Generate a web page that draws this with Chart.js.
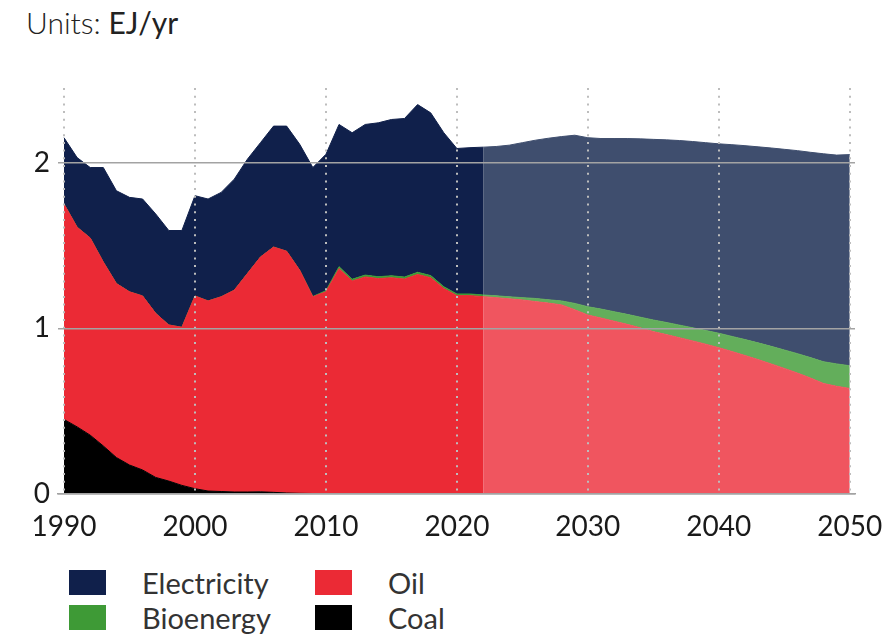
<!DOCTYPE html>
<html>
<head>
<meta charset="utf-8">
<script src="https://cdn.jsdelivr.net/npm/chart.js@4.4.0/dist/chart.umd.min.js"></script>
<style>
  body { margin: 0; background: #fff; font-family: Lato, sans-serif; }
  #wrap { position: relative; width: 887px; height: 638px; }
  #units { position: absolute; left: 26px; top: 4px; font-size: 30px; color: #222; }
  #units .lt { font-weight: 300; }
  #chart { position: absolute; left: 0; top: 0; }
  #legend { position: absolute; left: 69px; top: 570px; display: grid;
            grid-template-columns: 246px 200px; row-gap: 10px; }
  .item { display: flex; align-items: center; height: 25px; font-size: 29px; color: #333; }
  .box { width: 37px; height: 25px; margin-right: 36px; }
</style>
</head>
<body>
<div id="wrap">
  <div id="units"><span class="lt">Units:</span> EJ/yr</div>
  <canvas id="chart" width="887" height="550"></canvas>
  <div id="legend"></div>
</div>
<script>
// anos (histórico até 2022, projeção depois)
const years = [
  1990, 1991, 1992, 1993, 1994, 1995, 1996, 1997, 1998, 1999,
  2000, 2001, 2002, 2003, 2004, 2005, 2006, 2007, 2008, 2009,
  2010, 2011, 2012, 2013, 2014, 2015, 2016, 2017, 2018, 2019,
  2020, 2021, 2022, 2023, 2024, 2025, 2026, 2027, 2028, 2029,
  2030, 2031, 2032, 2033, 2034, 2035, 2036, 2037, 2038, 2039,
  2040, 2041, 2042, 2043, 2044, 2045, 2046, 2047, 2048, 2049, 2050
]
const forecastStart = 2022

const coal = [
  0.45, 0.405, 0.355, 0.29, 0.22, 0.175, 0.145, 0.10, 0.078, 0.052,
  0.032, 0.018, 0.015, 0.012, 0.012, 0.013, 0.01, 0.006, 0.004, 0.003,
  0.003, 0.003, 0.003, 0.003, 0.003, 0.003, 0.003, 0.003, 0.002, 0.002,
  0.002, 0.002, 0.002, 0, 0, 0, 0, 0, 0, 0,
  0, 0, 0, 0, 0, 0, 0, 0, 0, 0,
  0, 0, 0, 0, 0, 0, 0, 0, 0, 0, 0
]

const oil = [
  1.30, 1.205, 1.19, 1.11, 1.05, 1.045, 1.05, 0.99, 0.942, 0.954,
  1.163, 1.147, 1.175, 1.218, 1.318, 1.417, 1.48, 1.459, 1.346, 1.187,
  1.217, 1.357, 1.282, 1.307, 1.297, 1.302, 1.294, 1.322, 1.303, 1.238,
  1.195, 1.195, 1.189, 1.185, 1.178, 1.171, 1.161, 1.152, 1.141, 1.112,
  1.08, 1.062, 1.043, 1.024, 1.003, 0.98, 0.962, 0.943, 0.924, 0.904,
  0.883, 0.86, 0.836, 0.811, 0.785, 0.758, 0.73, 0.70, 0.667, 0.65, 0.637
]

const bioenergy = [
  0, 0, 0, 0, 0, 0, 0, 0, 0, 0,
  0, 0, 0, 0, 0, 0, 0, 0, 0, 0.002,
  0.007, 0.012, 0.011, 0.011, 0.011, 0.012, 0.012, 0.013, 0.013, 0.011,
  0.01, 0.01, 0.01, 0.011, 0.012, 0.014, 0.019, 0.02, 0.024, 0.038,
  0.05, 0.054, 0.057, 0.06, 0.064, 0.07, 0.073, 0.076, 0.079, 0.083,
  0.087, 0.091, 0.096, 0.101, 0.106, 0.111, 0.117, 0.123, 0.131, 0.135, 0.137
]

const electricity = [
  0.40, 0.42, 0.425, 0.57, 0.56, 0.57, 0.585, 0.60, 0.57, 0.584,
  0.605, 0.615, 0.63, 0.67, 0.69, 0.69, 0.73, 0.755, 0.76, 0.778,
  0.823, 0.858, 0.884, 0.909, 0.929, 0.943, 0.957, 1.012, 0.982, 0.929,
  0.878, 0.883, 0.892, 0.901, 0.915, 0.935, 0.955, 0.975, 0.992, 1.015,
  1.02, 1.029, 1.045, 1.061, 1.076, 1.09, 1.102, 1.114, 1.124, 1.133,
  1.143, 1.157, 1.17, 1.183, 1.197, 1.211, 1.225, 1.239, 1.255, 1.26, 1.274
]

const xTicks = [1990, 2000, 2010, 2020, 2030, 2040, 2050]
const yTicks = [0, 1, 2]

// ordem de empilhamento: de baixo para cima
const series = [
  { label: 'Coal',        values: coal,        dark: '#000000', light: '#000000' },
  { label: 'Oil',         values: oil,         dark: '#eb2a35', light: '#f0555f' },
  { label: 'Bioenergy',   values: bioenergy,   dark: '#3e9a36', light: '#63ae5b' },
  { label: 'Electricity', values: electricity, dark: '#10204b', light: '#3f4e6e' },
]

const corPorPeriodo = (s) => (ctx) => ctx.p0.parsed.x >= forecastStart ? s.light : s.dark

const datasets = series.map((s, i) => ({
  label: s.label,
  data: years.map((yr, k) => ({ x: yr, y: s.values[k] })),
  fill: i === 0 ? 'origin' : '-1',
  backgroundColor: s.dark,
  borderColor: s.dark,
  borderWidth: 1,
  pointRadius: 0,
  tension: 0,
  segment: {
    backgroundColor: corPorPeriodo(s),
    borderColor: corPorPeriodo(s),
  },
}))

const tickFont = { family: 'Lato, sans-serif', size: 28 }

const config = {
  type: 'line',
  data: { datasets: datasets },
  options: {
    responsive: false,
    animation: false,
    events: [],
    layout: { padding: { top: 88, right: 0, left: 0, bottom: 0 } },
    plugins: {
      legend: { display: false },
      tooltip: { enabled: false },
    },
    scales: {
      x: {
        type: 'linear',
        min: 1989.54,
        max: 2050.4,
        afterBuildTicks: (axis) => { axis.ticks = xTicks.map(v => ({ value: v })) },
        afterFit: (axis) => {
          axis.height = 56
          // a área do gráfico vai até x=855
          axis.paddingLeft = 0
          axis.paddingRight = 32
        },
        ticks: {
          font: tickFont,
          color: '#1a1a1a',
          padding: 16,
          maxRotation: 0,
          callback: (v) => String(v),
        },
        // grade por cima das áreas
        grid: { color: '#bdbdbd', lineWidth: 2, drawTicks: false, z: 1 },
        border: { display: true, color: '#a0a0a0', width: 1.5, dash: [2, 5.7], z: 1 },
      },
      y: {
        stacked: true,
        min: 0,
        max: 2.45,
        afterBuildTicks: (axis) => { axis.ticks = yTicks.map(v => ({ value: v })) },
        afterFit: (axis) => { axis.width = 58 },
        ticks: { font: tickFont, color: '#1a1a1a', padding: 8 },
        grid: { color: '#a3a3a3', lineWidth: 1.5, drawTicks: false, z: 1 },
        border: { display: false },
      },
    },
  },
}

const myChart = new Chart(document.getElementById('chart'), config)

// legenda em duas colunas
const legendOrder = ['Electricity', 'Oil', 'Bioenergy', 'Coal']
const legend = document.getElementById('legend')
legendOrder.forEach(name => {
  const s = series.find(d => d.label === name)
  const item = document.createElement('div')
  item.className = 'item'
  item.innerHTML = '<span class="box" style="background:' + s.dark + '"></span><span>' + name + '</span>'
  legend.appendChild(item)
})
</script>
</body>
</html>
